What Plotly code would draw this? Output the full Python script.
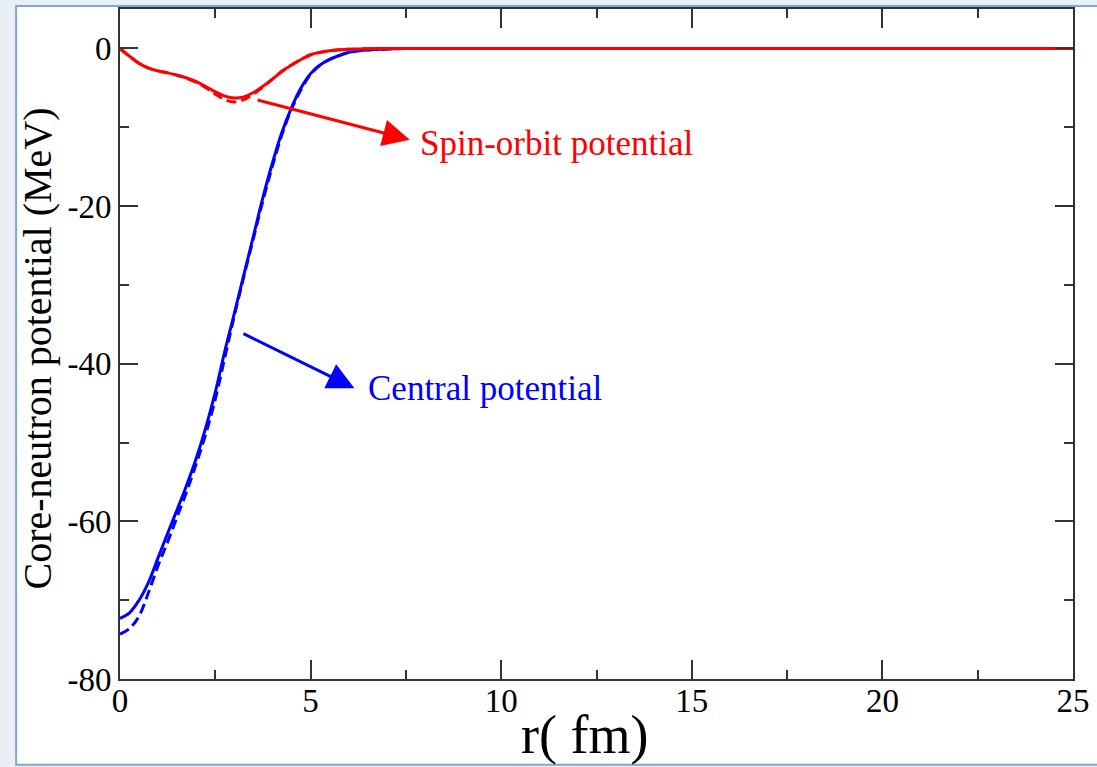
import plotly.graph_objects as go

# radius grid (fm)
r = [0, 0.25, 0.5, 0.75, 1.0, 1.25, 1.5, 1.75, 2.0, 2.25, 2.5, 2.75, 3.0, 3.25, 3.5,
     3.75, 4.0, 4.25, 4.5, 4.75, 5.0, 5.25, 5.5, 5.75, 6.0, 6.5, 7.0, 7.5, 8.0,
     10.0, 15.0, 20.0, 25.0]

central_solid = [-72.3, -71.6, -70.0, -67.7, -64.6, -61.5, -58.5, -55.4, -52.0, -48.1,
                 -43.6, -38.4, -33.6, -28.7, -23.8, -18.9, -14.5, -10.6, -7.5, -5.0,
                 -3.2, -2.1, -1.4, -0.9, -0.5, -0.2, -0.07, -0.02, 0.0,
                 0.0, 0.0, 0.0, 0.0]
central_dashed = [-74.3, -73.6, -72.0, -69.0, -65.6, -62.6, -59.4, -56.2, -52.7, -48.9,
                  -44.5, -39.2, -33.9, -28.9, -24.1, -19.3, -14.9, -10.9, -7.7, -5.2,
                  -3.3, -2.1, -1.4, -0.9, -0.5, -0.2, -0.07, -0.02, 0.0,
                  0.0, 0.0, 0.0, 0.0]
so_solid = [0.0, -1.0, -1.9, -2.5, -2.85, -3.1, -3.4, -3.75, -4.2, -4.85,
            -5.5, -6.05, -6.3, -6.15, -5.6, -4.8, -3.9, -2.9, -2.1, -1.4,
            -0.8, -0.5, -0.3, -0.18, -0.1, -0.03, 0.0, 0.0, 0.0,
            0.0, 0.0, 0.0, 0.0]
so_dashed = [0.0, -1.0, -1.9, -2.5, -2.85, -3.1, -3.4, -3.8, -4.3, -5.0,
             -5.8, -6.5, -6.8, -6.5, -5.8, -4.9, -3.9, -2.9, -2.1, -1.4,
             -0.8, -0.5, -0.3, -0.18, -0.1, -0.03, 0.0, 0.0, 0.0,
             0.0, 0.0, 0.0, 0.0]

x_ticks = [0, 5, 10, 15, 20, 25]
x_labels = ["0", "5", "10", "15", "20", "25"]
y_ticks = [0, -20, -40, -60, -80]
y_labels = ["0", "-20", "-40", "-60", "-80"]

FONT = "Liberation Serif"
BLUE = "#0000ff"
RED = "#ff0000"

fig = go.Figure()
fig.add_trace(go.Scatter(x=r, y=central_dashed, mode="lines",
                         line=dict(color=BLUE, width=3, dash="10px,5px", shape="spline")))
fig.add_trace(go.Scatter(x=r, y=central_solid, mode="lines",
                         line=dict(color=BLUE, width=3, shape="spline")))
fig.add_trace(go.Scatter(x=r, y=so_dashed, mode="lines",
                         line=dict(color=RED, width=3, dash="10px,5px", shape="spline")))
fig.add_trace(go.Scatter(x=r, y=so_solid, mode="lines",
                         line=dict(color=RED, width=3, shape="spline")))

# arrows
fig.add_annotation(x=7.6, y=-11.6, ax=3.57, ay=-6.5, xref="x", yref="y",
                   axref="x", ayref="y", text="", showarrow=True,
                   arrowhead=2, arrowsize=1.8, arrowwidth=3, arrowcolor=RED)
fig.add_annotation(x=6.15, y=-43.1, ax=3.2, ay=-36.1, xref="x", yref="y",
                   axref="x", ayref="y", text="", showarrow=True,
                   arrowhead=2, arrowsize=1.8, arrowwidth=3, arrowcolor=BLUE)
fig.add_annotation(x=7.81, y=-12.0, text="Spin-orbit potential", showarrow=False,
                   xanchor="left", yanchor="middle",
                   font=dict(family=FONT, size=35, color=RED))
fig.add_annotation(x=6.46, y=-43.1, text="Central potential", showarrow=False,
                   xanchor="left", yanchor="middle",
                   font=dict(family=FONT, size=35, color=BLUE))

# axis titles
fig.add_annotation(x=0.4875, y=-0.084, xref="paper", yref="paper",
                   text="r( fm)", showarrow=False, xanchor="center", yanchor="middle",
                   font=dict(family=FONT, size=54, color="black"))
fig.add_annotation(x=-0.0865, y=0.4926, xref="paper", yref="paper", textangle=-90,
                   text="Core-neutron potential (MeV)", showarrow=False,
                   xanchor="center", yanchor="middle",
                   font=dict(family=FONT, size=40, color="black"))

# slide frame
fig.add_shape(type="rect", xref="paper", yref="paper",
              x0=-0.109, x1=1.05, y0=-0.128, y1=1.0045,
              fillcolor="white", line=dict(color="#7ea6d6", width=2), layer="below")

axis_common = dict(showgrid=False, zeroline=False, showline=True, linecolor="#333333",
                   linewidth=2, mirror="allticks", ticks="inside", tickcolor="#333333",
                   tickwidth=2, tickfont=dict(family=FONT, size=33, color="black"))

fig.update_xaxes(range=[0, 25], tickvals=x_ticks, ticktext=x_labels, ticklen=19,
                 ticklabelstandoff=-9,
                 minor=dict(dtick=2.5, tick0=0, ticklen=9, ticks="inside",
                            tickcolor="#333333", tickwidth=2),
                 **axis_common)
fig.update_yaxes(range=[-80, 5], tickvals=y_ticks, ticktext=y_labels, ticklen=18,
                 minor=dict(dtick=10, tick0=0, ticklen=9, ticks="inside",
                            tickcolor="#333333", tickwidth=2),
                 **axis_common)

fig.update_layout(width=1097, height=767, showlegend=False,
                  margin=dict(l=120, r=17, t=7, b=88),
                  paper_bgcolor="#eaeff5", plot_bgcolor="white")

fig.write_html("out.html")
